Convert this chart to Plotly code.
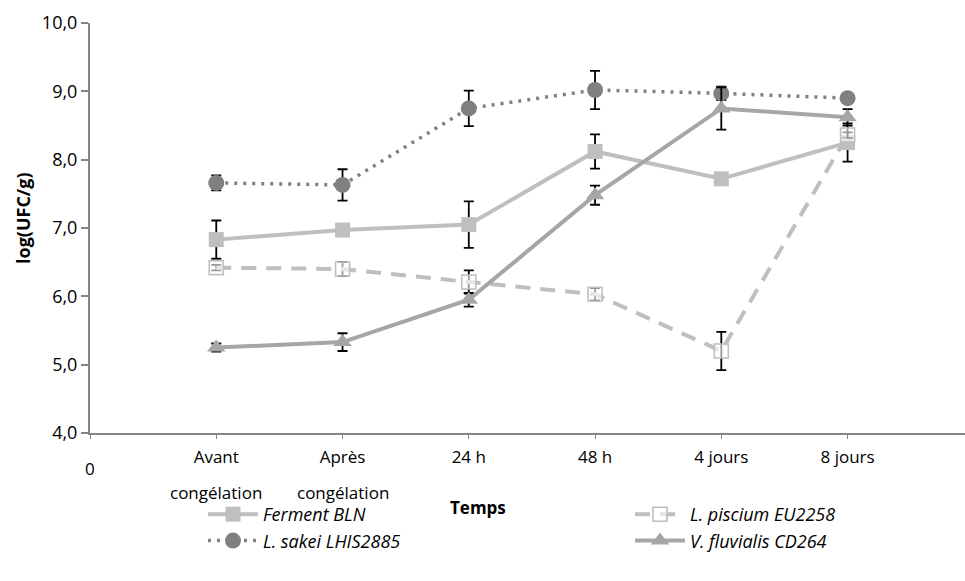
import plotly.graph_objects as go

# ---- data ----
x_pos = [1, 2, 3, 4, 5, 6]
tick_vals = [0, 1, 2, 3, 4, 5, 6]
tick_first = ["0", "Avant", "Après", "24 h", "48 h", "4 jours", "8 jours"]
tick_second = ["", "congélation", "congélation", "", "", "", ""]

ferment = [6.83, 6.97, 7.05, 8.12, 7.72, 8.25]
ferment_err = [0.28, 0.04, 0.34, 0.25, 0.04, 0.28]
piscium = [6.42, 6.40, 6.21, 6.03, 5.20, 8.36]
piscium_err = [0.04, 0.10, 0.17, 0.09, 0.28, 0.04]
sakei = [7.66, 7.63, 8.75, 9.02, 8.97, 8.90]
sakei_err = [0.11, 0.23, 0.26, 0.28, 0.10, 0.04]
fluvialis = [5.25, 5.33, 5.95, 7.48, 8.75, 8.62]
fluvialis_err = [0.06, 0.13, 0.10, 0.14, 0.31, 0.12]

names = ["Ferment BLN", "L. piscium EU2258", "L. sakei LHIS2885", "V. fluvialis CD264"]

FONT = "Open Sans"
W, H = 965, 581
L, R, T, B = 90, 0, 23, 148
pw, ph = W - L - R, H - T - B


def px_x(px):
    return (px - L) / pw


def px_y(py):
    return (H - B - py) / ph


err_style = dict(type="data", color="black", thickness=1.8, width=5)

fig = go.Figure()
fig.add_trace(go.Scatter(
    x=x_pos, y=ferment, name=names[0], mode="lines+markers", legend="legend", legendgroup="a",
    line=dict(color="#BFBFBF", width=4),
    marker=dict(symbol="square", size=15, color="#BFBFBF"),
    error_y=dict(array=ferment_err, **err_style)))
fig.add_trace(go.Scatter(
    x=x_pos, y=piscium, name=names[1], mode="lines+markers", legend="legend2", legendgroup="b",
    line=dict(color="#BFBFBF", width=4, dash="15px,10px"),
    marker=dict(symbol="square", size=14, color="rgba(255,255,255,0.6)",
                line=dict(color="#BFBFBF", width=1.6)),
    error_y=dict(array=piscium_err, **err_style)))
fig.add_trace(go.Scatter(
    x=x_pos, y=sakei, name=names[2], mode="lines+markers", legend="legend", legendgroup="c",
    line=dict(color="#808080", width=3.5, dash="3px,6px"),
    marker=dict(symbol="circle", size=16, color="#808080"),
    error_y=dict(array=sakei_err, **err_style)))
fig.add_trace(go.Scatter(
    x=x_pos, y=fluvialis, name=names[3], mode="lines+markers", legend="legend2", legendgroup="d",
    line=dict(color="#A6A6A6", width=4),
    marker=dict(symbol="triangle-up", size=16, color="#A6A6A6"),
    error_y=dict(array=fluvialis_err, **err_style)))

annotations = []
# second lines of the category labels and the "0" label
for v, t in zip(tick_vals, tick_second):
    if t:
        annotations.append(dict(x=v, xref="x", y=px_y(493), yref="paper", text=t,
                                showarrow=False, xanchor="center", yanchor="middle",
                                font=dict(family=FONT, size=17, color="black")))
annotations.append(dict(x=tick_vals[0], xref="x", y=px_y(468), yref="paper", text=tick_first[0],
                        showarrow=False, xanchor="center", yanchor="middle",
                        font=dict(family=FONT, size=17, color="black")))
annotations.append(dict(x=px_x(478), xref="paper", y=px_y(507), yref="paper", text="<b>Temps</b>",
                        showarrow=False, xanchor="center", yanchor="middle",
                        font=dict(family=FONT, size=17, color="black")))
annotations.append(dict(x=px_x(23), xref="paper", y=px_y(218), yref="paper", text="<b>log(UFC/g)</b>",
                        textangle=-90, showarrow=False, xanchor="center", yanchor="middle",
                        font=dict(family=FONT, size=18, color="black")))

legend_common = dict(orientation="v", xanchor="left", yanchor="top",
                     font=dict(family=FONT, size=18, color="black", style="italic"),
                     traceorder="grouped", itemwidth=50, tracegroupgap=0,
                     bgcolor="rgba(0,0,0,0)")

fig.update_layout(
    width=W, height=H,
    margin=dict(l=L, r=R, t=T, b=B, autoexpand=False),
    paper_bgcolor="white", plot_bgcolor="white",
    separators=", ",
    font=dict(family=FONT, size=17, color="black"),
    showlegend=True,
    legend=dict(x=px_x(203), y=px_y(496), **legend_common),
    legend2=dict(x=px_x(630), y=px_y(496), **legend_common),
    annotations=annotations,
)
fig.update_xaxes(
    range=[0, 6.93], tickmode="array", tickvals=tick_vals,
    ticktext=[""] + tick_first[1:],
    showline=True, linecolor="#868686", linewidth=2,
    ticks="outside", ticklen=4, tickcolor="#868686", tickwidth=1,
    showgrid=False, zeroline=False, ticklabelstandoff=4, automargin=False,
    tickfont=dict(family=FONT, size=17, color="black"),
)
fig.update_yaxes(
    range=[4, 10], dtick=1, tick0=4, tickformat=".1f",
    showline=True, linecolor="#868686", linewidth=2,
    ticks="outside", ticklen=7, tickcolor="#868686", tickwidth=1.5,
    showgrid=False, zeroline=False, automargin=False,
    tickfont=dict(family=FONT, size=18, color="black"),
)

fig.write_html("out.html", config={"displayModeBar": False},
               post_script="document.body.style.margin='0';document.body.style.overflow='hidden';")
